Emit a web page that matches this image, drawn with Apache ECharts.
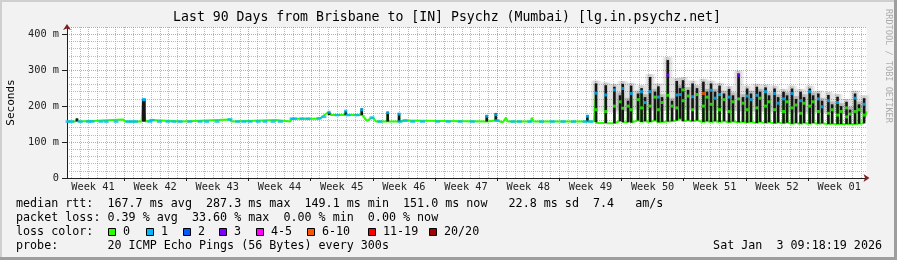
<!DOCTYPE html>
<html><head><meta charset="utf-8">
<script src="https://cdn.jsdelivr.net/npm/echarts@6/dist/echarts.min.js"></script>
<style>html,body{margin:0;padding:0;background:#f2f2f2}#c{width:897px;height:260px}</style>
</head><body><div id="c"></div>
<script>
// ---------- data ----------
const X_MIN = 0.58, X_MAX = 90.58;           // days (day 0 = Monday of week 41)
const weekLabels = ['Week 41','Week 42','Week 43','Week 44','Week 45','Week 46','Week 47','Week 48','Week 49','Week 50','Week 51','Week 52','Week 01'];
const weekMid = [3.5,10.5,17.5,24.5,31.5,38.5,45.5,52.5,59.5,66.5,73.5,80.5,87.5];
const weekBounds = [7,14,21,28,35,42,49,56,63,70,77,84];
const dayLines = [1,2,3,4,5,6,7,8,9,10,11,12,13,14,15,16,17,18,19,20,21,22,23,24,25,26,27,28,29,30,31,32,33,34,35,36,37,38,39,40,41,42,43,44,45,46,47,48,49,50,51,52,53,54,55,56,57,58,59,60,61,62,63,64,65,66,67,68,69,70,71,72,73,74,75,76,77,78,79,80,81,82,83,84,85,86,87,88,89,90];
const yTicks = [0,100,200,300,400];

// median rtt (ms)
const medT = [0.58,1.5,1.7,1.95,3.9,4.1,6.9,7.1,8.98,9.12,9.32,9.42,10.1,10.3,13.5,18.9,19.1,24.1,24.3,25.7,25.9,28.8,29.1,29.7,30.05,30.3,31.9,31.96,32.02,33.7,33.76,33.82,34.0,34.35,34.9,35.15,35.4,36.6,36.68,36.76,37.9,37.96,38.02,38.6,38.8,47.78,47.83,47.88,48.8,48.85,48.92,49.65,50.0,50.2,52.8,52.9,53.1,59.1,59.16,59.22,59.9,
 60.07,60.13,60.19,61.17,61.23,61.29,62.14,62.20,62.26,62.78,62.84,62.90,63.08,63.14,63.20,63.68,63.74,63.80,64.02,64.08,64.14,64.80,64.86,64.92,65.20,65.26,65.32,65.59,65.65,65.71,66.16,66.22,66.28,66.71,66.77,66.83,67.09,67.15,67.21,67.50,67.56,67.62,68.15,68.21,68.27,68.63,68.69,68.75,69.16,69.22,69.28,69.53,69.59,69.65,69.87,69.93,69.99,70.43,70.49,70.55,70.94,71.00,71.06,71.44,71.50,71.56,72.16,72.22,72.28,72.57,72.63,72.69,73.02,73.08,73.14,73.47,73.53,73.59,73.98,74.04,74.10,74.48,74.54,74.60,75.05,75.11,75.17,75.49,75.55,75.61,76.12,76.18,76.24,76.62,76.68,76.74,77.08,77.14,77.20,77.52,77.58,77.64,78.17,78.23,78.29,78.54,78.60,78.66,79.16,79.22,79.28,79.55,79.61,79.67,80.17,80.23,80.29,80.57,80.63,80.69,81.18,81.24,81.30,81.58,81.64,81.70,82.14,82.20,82.26,82.59,82.65,82.71,83.10,83.16,83.22,83.49,83.55,83.61,84.13,84.19,84.25,84.51,84.57,84.63,85.10,85.16,85.22,85.52,85.58,85.64,86.23,86.29,86.35,86.65,86.71,86.77,87.26,87.32,87.38,87.66,87.72,87.78,88.27,88.33,88.39,88.67,88.73,88.79,89.23,89.29,89.35,89.68,89.74,89.80,90.25,90.31,90.37,90.58];
const medV = [157,157,163,157,159,157,163,157,157,218,218,157,161,157,157,163,157,161,157,157,165,165,166,178,183,175,175,186,175,175,190,175,175,159,168,164,157,157,182,157,157,178,157,160,157,157,172,157,160,176,160,155,168,157,157,168,157,157,172,157,157,
 155,236,153,153,231,152,152,245,153,158,212,158,155,249,155,155,200,155,154,235,154,160,218,160,156,240,156,158,210,158,156,240,156,160,225,160,155,225,155,156,210,156,157,286,157,158,200,158,160,231,160,165,232,165,158,245,158,160,228,160,158,226,158,160,232,160,156,235,156,158,225,158,156,244,156,158,222,158,156,232,156,158,218,158,155,225,155,157,212,157,155,285,155,156,208,156,154,228,154,156,218,156,153,230,153,156,222,156,153,240,153,155,212,155,152,235,152,154,208,154,152,220,152,154,212,154,151,235,151,153,203,153,151,215,151,153,208,153,151,240,151,153,212,153,151,220,151,152,198,152,150,215,150,151,190,151,150,210,150,150,185,150,150,195,150,150,178,150,150,222,150,151,190,151,152,205,165,185];

// daily peaks (smoke = spread of the 20 pings)
const mainT    = [60.13,61.23,62.20,63.14,64.08,65.26,66.22,67.15,68.21,69.22,69.93,71.00,72.22,73.08,74.04,75.11,76.18,77.14,78.23,79.22,80.23,81.24,82.20,83.16,84.19,85.16,86.29,87.32,88.33,89.29,90.31];
const mainLow  = [155,153,152,155,154,156,156,155,157,160,158,158,156,156,156,155,155,154,153,153,152,152,151,151,151,151,150,150,150,150,152];
const mainTop  = [263,258,254,262,257,250,281,255,328,270,272,263,268,263,257,248,291,249,254,252,249,240,249,240,249,235,231,226,212,235,222];
const mainMed  = [236,231,245,249,235,240,240,225,286,231,245,226,235,244,232,225,285,228,230,240,235,220,235,215,240,220,215,210,195,222,205];
const mainLoss = [1,1,1,1,1,1,1,1,3,1,0,1,6,1,1,1,3,1,1,1,1,1,1,1,1,1,1,1,0,1,1];
const mainRamp = [190,185,200,194,190,195,200,190,230,195,215,190,200,205,190,185,220,190,195,200,190,185,195,180,200,185,180,175,170,185,175];
const secT    = [62.84,63.74,64.86,65.65,66.77,67.56,68.69,69.59,70.49,71.50,72.63,73.53,74.54,75.55,76.68,77.58,78.60,79.61,80.63,81.64,82.65,83.55,84.57,85.58,86.71,87.72,88.73,89.74];
const secLow  = [158,155,160,158,160,156,158,165,160,160,158,158,158,157,156,156,156,155,154,154,153,153,153,152,151,150,150,151];
const secTop  = [230,215,235,225,240,225,215,250,245,250,240,240,235,230,225,235,240,230,225,230,220,225,230,215,205,200,190,205];
const secMed  = [212,200,218,210,225,210,200,232,228,232,225,222,218,212,208,218,222,212,208,212,203,208,212,198,190,185,178,190];
const secLoss = [0,0,0,1,0,0,0,1,0,0,0,1,0,0,0,1,0,0,1,0,0,0,0,1,0,0,0,0];
// small excursions in the quiet period
const flatSpikeT   = [1.7,9.17,9.3,30.08,31.96,33.76,36.68,37.96,47.83,48.85,59.16];
const flatSpikeLo  = [157,157,157,175,175,175,157,157,157,160,157];
const flatSpikeHi  = [166,220,220,184,187,194,184,180,175,181,175];
const flatSpikeMed = [163,218,218,183,186,190,182,178,172,176,172];
// single-loss (blue) stretches of the median line in the quiet period
const blueT = [0.7,1.1,2.05,3.0,3.4,4.4,5.0,6.1,7.45,7.9,8.3,9.9,10.15,11.0,11.95,12.6,13.3,14.4,15.55,16.3,17.47,18.93,19.8,20.5,21.18,22.1,22.87,23.77,24.6,25.91,26.2,27.04,27.7,28.95,29.5,31.0,32.22,33.23,34.92,35.8,38.07,38.64,39.5,40.6,42.3,43.5,44.83,46.2,48.99,50.79,51.5,52.7,54.0,55.2,56.42,57.6,58.9,59.5];
const blueV = [157,157,157,157,157,157,157,157,157,157,157,157,161,157,157,157,157,157,157,157,157,163,157,157,157,157,157,157,157,165,165,165,165,166,170,175,175,175,168,157,157,160,157,157,157,157,157,157,160,157,157,157,157,157,157,157,157,157];

const lossLabels = ['0','1','2','3','4-5','6-10','11-19','20/20'];
const lossColors = ['#26ff00','#00b8ff','#0059ff','#7e00ff','#ff00ff','#ff5500','#ff0000','#a10000'];

// ---------- build ----------
function lossColor(n){
  if(n<=0) return lossColors[0]; if(n===1) return lossColors[1]; if(n===2) return lossColors[2];
  if(n===3) return lossColors[3]; if(n<=5) return lossColors[4]; if(n<=10) return lossColors[5];
  if(n<=19) return lossColors[6]; return lossColors[7];
}
const medData = medT.map((t,i)=>[t, medV[i]]);
const smokeData = [];
flatSpikeT.forEach((t,i)=>smokeData.push([t, flatSpikeLo[i], flatSpikeHi[i]]));
mainT.forEach((t,i)=>smokeData.push([t, mainLow[i], mainTop[i]]));
secT.forEach((t,i)=>smokeData.push([t, secLow[i], secTop[i]]));
const haloData = [];
mainT.forEach((t,i)=>haloData.push([t, mainLow[i], mainTop[i]]));
secT.forEach((t,i)=>haloData.push([t, secLow[i], secTop[i]]));
const dotData = [];
blueT.forEach((t,i)=>dotData.push([t, blueV[i], 1, 1]));
flatSpikeT.forEach((t,i)=>{ if(i>0) dotData.push([t, flatSpikeMed[i], 1, 0]); });
mainT.forEach((t,i)=>dotData.push([t, mainRamp[i], 0, 0]));
mainT.forEach((t,i)=>dotData.push([t, mainMed[i], mainLoss[i], 0]));
secT.forEach((t,i)=>dotData.push([t, secMed[i], secLoss[i], 0]));
const gridData = dayLines.map(d=>[d, weekBounds.indexOf(d)>=0 ? 1 : 0]);

const MONO = '"DejaVu Sans Mono", monospace';
const FONT = '11.7px ' + MONO;
const chart = echarts.init(document.getElementById('c'), null, {renderer:'canvas'});

function txt(x, y, s, align){
  return {type:'text', x:x, y:y, silent:true, style:{text:s, font:FONT, fill:'#000', align:align||'left', verticalAlign:'middle'}};
}
const legendGraphics = [];
const boxX = [108,146,183,219,256,307,368,429];
lossLabels.forEach((lab,i)=>{
  legendGraphics.push({type:'rect', shape:{x:boxX[i]+0.5, y:228.5, width:7, height:7}, style:{fill:lossColors[i], stroke:'#000', lineWidth:1}, silent:true});
  legendGraphics.push(txt(boxX[i]+15, 232, lab));
});

const option = {
  animation:false,
  backgroundColor:'#f2f2f2',
  grid:{left:67, right:30.5, top:27, bottom:82, show:true, backgroundColor:'#ffffff', borderWidth:0, outerBoundsMode:'none', containLabel:false},
  xAxis:[
    {type:'value', min:X_MIN, max:X_MAX, position:'bottom',
     axisLine:{show:true, onZero:false, lineStyle:{color:'#801f1f', width:1}, symbol:['none','arrow'], symbolSize:[6,6], symbolOffset:[0,3]},
     axisTick:{show:false}, axisLabel:{show:false}, splitLine:{show:false}},
    {type:'value', min:X_MIN, max:X_MAX, position:'bottom', offset:0,
     axisLine:{show:true, onZero:false, lineStyle:{color:'#1f1f1f', width:1}},
     axisTick:{show:true, customValues:weekBounds, length:3, lineStyle:{color:'#1f1f1f'}},
     axisLabel:{show:true, customValues:weekMid, margin:4, fontFamily:MONO, fontSize:10.3, color:'#222',
       formatter:(v)=>{const k=weekMid.indexOf(v); return k>=0?weekLabels[k]:'';}},
     splitLine:{show:false}}
  ],
  yAxis:[
    {type:'value', min:0, max:420, interval:100, position:'left',
     axisLine:{show:true, onZero:false, lineStyle:{color:'#801f1f', width:1}, symbol:['none','arrow'], symbolSize:[6,6], symbolOffset:[0,3]},
     axisTick:{show:false}, axisLabel:{show:false}, splitLine:{show:false}},
    {type:'value', min:0, max:420, interval:100, position:'left', offset:0,
     name:'Seconds', nameLocation:'middle', nameGap:50, nameRotate:90,
     nameTextStyle:{fontFamily:MONO, fontSize:11, color:'#000'},
     axisLine:{show:true, onZero:false, lineStyle:{color:'#1f1f1f', width:1}},
     axisTick:{show:true, length:5, lineStyle:{color:'#1f1f1f'}},
     axisLabel:{show:true, margin:8, showMaxLabel:false, fontFamily:MONO, fontSize:10.3, color:'#222',
       formatter:(v)=> yTicks.indexOf(v)<0 ? '' : (v===0 ? '0' : v+' m')},
     splitLine:{show:true, lineStyle:{color:'rgba(222,79,79,0.6)', width:1, type:[1,1]}},
     minorTick:{show:false, splitNumber:5},
     minorSplitLine:{show:true, lineStyle:{color:'rgba(143,143,143,0.6)', width:1, type:[1,1]}}}
  ],
  series:[
    {type:'custom', name:'grid', xAxisIndex:0, yAxisIndex:0, z:1, silent:true, data:gridData,
     renderItem:(p, api)=>{
       const d = api.value(0), major = api.value(1);
       const a = api.coord([d, 0]), b = api.coord([d, 420]);
       const x = Math.round(a[0]) + 0.5;
       return {type:'line', shape:{x1:x, y1:a[1], x2:x, y2:b[1]},
               style:{stroke: major ? 'rgba(222,79,79,0.6)' : 'rgba(143,143,143,0.6)', lineWidth:1, lineDash:[1,1]}};
     }},
    {type:'custom', name:'halo', xAxisIndex:0, yAxisIndex:0, z:2, silent:true, data:haloData,
     renderItem:(p, api)=>{
       const t = api.value(0), lo = api.value(1), hi = api.value(2);
       const a = api.coord([t, lo + 30]), b = api.coord([t, hi + 8]);
       return {type:'rect', shape:{x:a[0]-6, y:b[1], width:12, height:Math.max(0,a[1]-b[1])},
         style:{fill:new echarts.graphic.LinearGradient(0,0,1,0,[{offset:0,color:'rgba(0,0,0,0)'},{offset:0.5,color:'rgba(0,0,0,0.22)'},{offset:1,color:'rgba(0,0,0,0)'}])}};
     }},
    {type:'line', name:'median', xAxisIndex:0, yAxisIndex:0, z:3, data:medData, symbol:'none', silent:true,
     lineStyle:{color:'#26ff00', width:2}},
    {type:'custom', name:'smoke', xAxisIndex:0, yAxisIndex:0, z:4, silent:true, data:smokeData,
     renderItem:(p, api)=>{
       const t = api.value(0), lo = api.value(1), hi = api.value(2);
       const a = api.coord([t, lo]), b = api.coord([t, hi]);
       return {type:'rect', shape:{x:a[0]-1.3, y:b[1], width:2.6, height:a[1]-b[1]}, style:{fill:'#161616'}};
     }},
    {type:'scatter', name:'loss', xAxisIndex:0, yAxisIndex:0, z:5, silent:true, data:dotData, symbol:'rect',
     symbolSize:(v)=> v[3] ? [5,2.5] : [3,3],
     itemStyle:{color:(p)=>lossColor(p.value[2])}}
  ],
  graphic:[
    {type:'rect', shape:{x:0, y:0, width:897, height:2}, style:{fill:'#cfcfcf'}, silent:true},
    {type:'rect', shape:{x:0, y:0, width:2, height:260}, style:{fill:'#cfcfcf'}, silent:true},
    {type:'rect', shape:{x:0, y:257, width:897, height:3}, style:{fill:'#9e9e9e'}, silent:true},
    {type:'rect', shape:{x:894, y:0, width:3, height:260}, style:{fill:'#9e9e9e'}, silent:true},
    {type:'text', x:447, y:18, silent:true, style:{text:'Last 90 Days from Brisbane to [IN] Psychz (Mumbai) [lg.in.psychz.net]', font:'13.2px '+MONO, fill:'#000', align:'center', verticalAlign:'middle'}},
    {type:'text', x:888, y:66, rotation:-Math.PI/2, silent:true, style:{text:'RRDTOOL / TOBI OETIKER', font:'8.6px '+MONO, fill:'rgba(0,0,0,0.3)', align:'center', verticalAlign:'middle'}},
    txt(16, 204, 'median rtt:  167.7 ms avg  287.3 ms max  149.1 ms min  151.0 ms now   22.8 ms sd  7.4   am/s'),
    txt(16, 218, 'packet loss: 0.39 % avg  33.60 % max  0.00 % min  0.00 % now'),
    txt(16, 232, 'loss color:'),
    txt(16, 246, 'probe:       20 ICMP Echo Pings (56 Bytes) every 300s'),
    txt(882, 246, 'Sat Jan  3 09:18:19 2026', 'right')
  ].concat(legendGraphics)
};
chart.setOption(option);
</script></body></html>
